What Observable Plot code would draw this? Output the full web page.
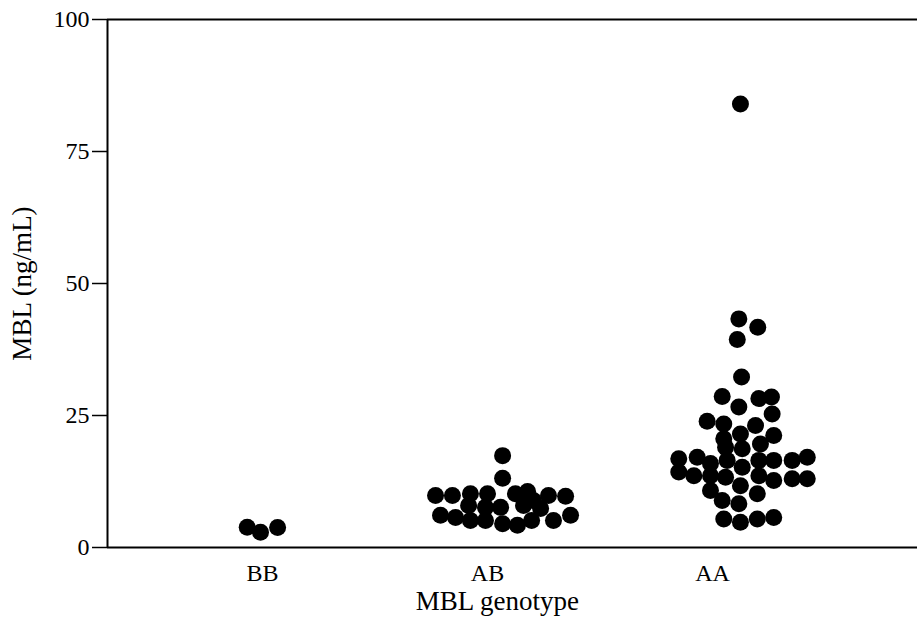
<!DOCTYPE html>
<html>
<head>
<meta charset="utf-8">
<script src="https://cdn.jsdelivr.net/npm/d3@7"></script>
<script src="https://cdn.jsdelivr.net/npm/@observablehq/plot@0.6"></script>
<style>
  body { margin: 0; background: #fff; }
  svg [aria-label="y-axis label"] text { font-size: 27px; }
</style>
</head>
<body>
<div id="chart"></div>
<script>
const categories = ["BB", "AB", "AA"];
const yTicks = [0, 25, 50, 75, 100];

// values in ng/mL and horizontal jitter (fraction of a category step)
const bbValues = [3.85, 2.9, 3.8];
const bbJitter = [-0.068, -0.009, 0.067];

const abValues = [17.4, 13.1, 9.85, 9.85, 10.2, 10.2, 10.2, 10.6, 9.85, 9.7,
  7.95, 7.6, 7.6, 7.95, 7.4, 8.9, 6.1, 5.7, 5.1, 5.1, 4.5, 4.2, 5.1, 5.1, 6.1];
const abJitter = [0.067, 0.067, -0.231, -0.156, -0.076, 0, 0.124, 0.178, 0.271, 0.347,
  -0.084, -0.009, 0.058, 0.16, 0.236, 0.204, -0.209, -0.142, -0.076, -0.009, 0.067, 0.133, 0.196, 0.293, 0.369];

const aaValues = [84, 43.3, 41.7, 39.4, 32.3, 28.6, 26.6, 28.2, 28.5, 25.3,
  23.9, 23.4, 21.5, 23.1, 21.2, 20.6, 19.6, 18.7, 19, 16.8,
  17.1, 15.9, 16.5, 15.2, 16.5, 16.5, 16.5, 17.1, 14.3, 13.6,
  13.6, 13.3, 11.7, 13.6, 12.7, 13, 13, 10.8, 8.9, 8.3,
  10.2, 5.4, 4.8, 5.4, 5.7];
const aaJitter = [0.124, 0.117, 0.201, 0.11, 0.129, 0.043, 0.117, 0.206, 0.262, 0.265,
  -0.024, 0.05, 0.124, 0.191, 0.272, 0.05, 0.213, 0.132, 0.058, -0.15,
  -0.068, -0.009, 0.065, 0.132, 0.206, 0.272, 0.354, 0.421, -0.15, -0.083,
  -0.009, 0.058, 0.124, 0.206, 0.272, 0.354, 0.421, -0.009, 0.043, 0.117,
  0.199, 0.05, 0.124, 0.199, 0.272];

const groups = [bbValues, abValues, aaValues];
const jitters = [bbJitter, abJitter, aaJitter];
const data = [];
groups.forEach((vals, gi) => {
  vals.forEach((v, i) => data.push({group: categories[gi], pos: gi + jitters[gi][i], value: v}));
});

const xDomain = [-0.689, 2.911];

const chart = Plot.plot({
  width: 917,
  height: 627,
  marginLeft: 107,
  marginRight: 0,
  marginTop: 19,
  marginBottom: 80,
  style: {fontFamily: "'Liberation Serif', 'DejaVu Serif', serif", fontSize: "24px", color: "#000", background: "#fff"},
  x: {type: "linear", domain: xDomain},
  y: {domain: [0, 100]},
  marks: [
    Plot.ruleY([0, 100], {stroke: "#000", strokeWidth: 2}),
    Plot.ruleX([xDomain[0]], {stroke: "#000", strokeWidth: 2}),
    Plot.axisY({ticks: yTicks, tickSize: 15, tickPadding: 3, strokeWidth: 1.5, fontSize: 24,
      label: null}),
    Plot.axisY({ticks: [], tickSize: 0, fontSize: 27,
      label: "MBL (ng/mL)", labelAnchor: "center", labelArrow: "none", labelOffset: 96}),
    Plot.axisX({ticks: [0, 1, 2], tickSize: 0, tickPadding: 16, fontSize: 24,
      tickFormat: (d) => categories[d], label: null}),
    Plot.text(["MBL genotype"], {x: [1.044], frameAnchor: "bottom", lineAnchor: "middle", dy: 54, fontSize: 27}),
    Plot.dot(data, {x: "pos", y: "value", r: 8.5, fill: "#000", stroke: "none"})
  ]
});
document.getElementById("chart").appendChild(chart);
</script>
</body>
</html>
